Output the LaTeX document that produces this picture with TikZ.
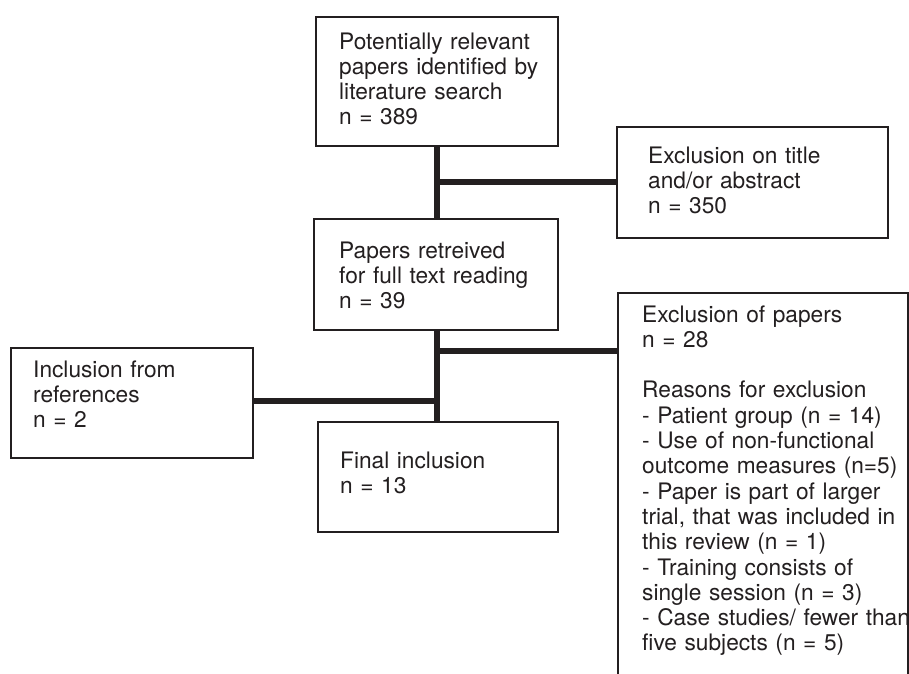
\documentclass[tikz,border=0pt]{standalone}
\usepackage{fontspec}
\setmainfont{TeX Gyre Heros}
\definecolor{ink}{HTML}{231F20}
\begin{document}
\begin{tikzpicture}[x=1pt,y=1pt,
  box/.style={draw=ink,line width=1.6pt,rectangle,inner sep=0pt,anchor=north west},
  txt/.style={anchor=base west,inner sep=0pt,align=left,text=ink,
    font={\fontsize{22.7}{25.3}\selectfont}},
  conn/.style={draw=ink,line width=6.5pt}]
\clip (0,0) rectangle (909,-673);
\fill[white] (0,0) rectangle (909,-673);
% boxes
\node[box,minimum width=242pt,minimum height=129pt] (b1) at (315,-16) {};
\node[box,minimum width=271pt,minimum height=111pt] (b3) at (616,-126) {};
\node[box,minimum width=244pt,minimum height=111pt] (b2) at (313,-218) {};
\node[box,minimum width=290pt,minimum height=420pt] (b5) at (617,-292) {};
\node[box,minimum width=242pt,minimum height=110pt] (b6) at (10,-347) {};
\node[box,minimum width=240pt,minimum height=110pt] (b4) at (317,-421) {};
% texts
\node[txt,text width=230pt] (t1) at (339,-49) {Potentially relevant\\papers identified by\\literature search\\n = 389};
\node[txt,text width=230pt] (t3) at (648,-163) {Exclusion on title\\and/or abstract\\n = 350};
\node[txt,text width=230pt] (t2) at (339,-258) {Papers retreived\\for full text reading\\n = 39};
\node[txt,text width=300pt] (t5) at (642,-322) {Exclusion of papers\\n = 28\\[25.3pt]Reasons for exclusion\\- Patient group (n = 14)\\- Use of non-functional\\outcome measures (n=5)\\- Paper is part of larger\\trial, that was included in\\this review (n = 1)\\- Training consists of\\single session (n = 3)\\- Case studies/ fewer than\\five subjects (n = 5)};
\node[txt,text width=220pt] (t6) at (33,-377) {Inclusion from\\references\\n = 2};
\node[txt,text width=220pt] (t4) at (340,-468) {Final inclusion\\n = 13};
% junctions
\coordinate (j1) at (437,-182);
\coordinate (j2) at (437,-351);
\coordinate (j3) at (437,-401);
% connectors
\draw[conn] (b1.south -| j1) -- (b2.north -| j1);
\draw[conn] (j1) -- (j1 -| b3.west);
\draw[conn] (b2.south -| j2) -- (b4.north -| j2);
\draw[conn] (j2) -- (j2 -| b5.west);
\draw[conn] (b6.east |- j3) -- (j3);
\end{tikzpicture}
\end{document}
